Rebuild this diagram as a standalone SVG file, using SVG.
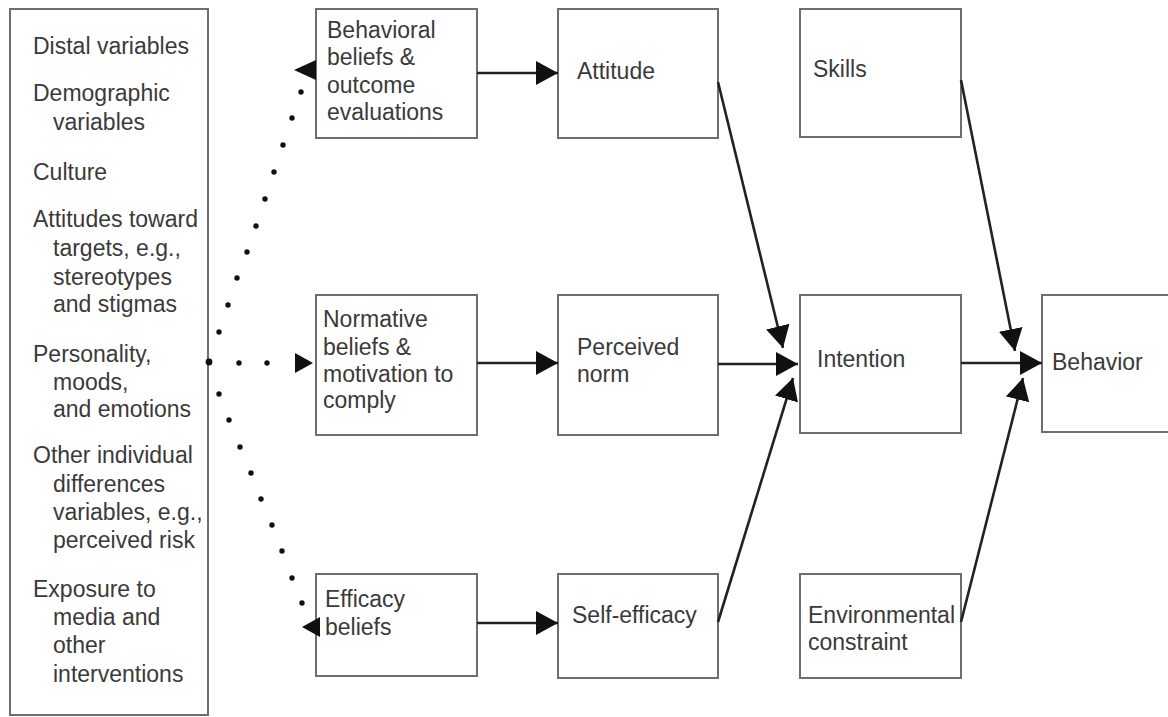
<svg xmlns="http://www.w3.org/2000/svg" width="1168" height="717" viewBox="0 0 1168 717">
<style>
.box{fill:#fff;stroke:#6e6e6e;stroke-width:2}
.t{font-family:"Liberation Sans",Arial,sans-serif;font-size:23px;fill:#3a3a3a}
.c{stroke:#222;stroke-width:2.6;fill:none}
.dots circle{fill:#111}
.ah{fill:#111}
</style>
<defs>
<marker id="arr" markerUnits="userSpaceOnUse" markerWidth="22" markerHeight="24" refX="22" refY="12" orient="auto" viewBox="0 0 22 24">
<path d="M0,0 L22,12 L0,24 z" fill="#111"/>
</marker>
</defs>
<rect width="1168" height="717" fill="#fff"/>

<g id="distal">
<rect class="box" x="10" y="9" width="198" height="706"/>
<text class="t" x="33" y="54">Distal variables</text>
<text class="t" x="33" y="101">Demographic</text>
<text class="t" x="53" y="130">variables</text>
<text class="t" x="33" y="180">Culture</text>
<text class="t" x="33" y="227">Attitudes toward</text>
<text class="t" x="53" y="256">targets, e.g.,</text>
<text class="t" x="53" y="285">stereotypes</text>
<text class="t" x="53" y="312">and stigmas</text>
<text class="t" x="33" y="362">Personality,</text>
<text class="t" x="53" y="390">moods,</text>
<text class="t" x="53" y="417">and emotions</text>
<text class="t" x="33" y="463">Other individual</text>
<text class="t" x="53" y="492">differences</text>
<text class="t" x="53" y="520">variables, e.g.,</text>
<text class="t" x="53" y="548">perceived risk</text>
<text class="t" x="33" y="597">Exposure to</text>
<text class="t" x="53" y="625">media and</text>
<text class="t" x="53" y="653">other</text>
<text class="t" x="53" y="682">interventions</text>
</g>

<g id="behavioral-beliefs">
<rect class="box" x="316" y="9" width="161" height="129"/>
<text class="t" x="327" y="38">Behavioral</text>
<text class="t" x="327" y="65">beliefs &amp;</text>
<text class="t" x="327" y="93">outcome</text>
<text class="t" x="327" y="120">evaluations</text>
</g>

<g id="normative-beliefs">
<rect class="box" x="316" y="295" width="161" height="140"/>
<text class="t" x="323" y="327">Normative</text>
<text class="t" x="323" y="355">beliefs &amp;</text>
<text class="t" x="323" y="382">motivation to</text>
<text class="t" x="323" y="408">comply</text>
</g>

<g id="efficacy-beliefs">
<rect class="box" x="316" y="574" width="161" height="102"/>
<text class="t" x="325" y="607">Efficacy</text>
<text class="t" x="325" y="635">beliefs</text>
</g>

<g id="attitude">
<rect class="box" x="558" y="9" width="160" height="129"/>
<text class="t" x="577" y="79">Attitude</text>
</g>

<g id="perceived-norm">
<rect class="box" x="558" y="295" width="160" height="140"/>
<text class="t" x="577" y="355">Perceived</text>
<text class="t" x="577" y="382">norm</text>
</g>

<g id="self-efficacy">
<rect class="box" x="558" y="574" width="160" height="104"/>
<text class="t" x="572" y="623">Self-efficacy</text>
</g>

<g id="skills">
<rect class="box" x="800" y="9" width="161" height="128"/>
<text class="t" x="813" y="77">Skills</text>
</g>

<g id="intention">
<rect class="box" x="800" y="295" width="161" height="138"/>
<text class="t" x="817" y="367">Intention</text>
</g>

<g id="environmental-constraint">
<rect class="box" x="800" y="574" width="161" height="104"/>
<text class="t" x="808" y="623">Environmental</text>
<text class="t" x="808" y="650">constraint</text>
</g>

<g id="behavior">
<rect class="box" x="1042" y="295" width="140" height="137"/>
<text class="t" x="1052" y="370">Behavior</text>
</g>

<g id="connectors">
<line class="c" x1="477" y1="73" x2="558" y2="73" marker-end="url(#arr)"/>
<line class="c" x1="477" y1="363" x2="558" y2="363" marker-end="url(#arr)"/>
<line class="c" x1="477" y1="623" x2="558" y2="623" marker-end="url(#arr)"/>
<line class="c" x1="718" y1="82" x2="783" y2="348" marker-end="url(#arr)"/>
<line class="c" x1="718" y1="364" x2="798" y2="364" marker-end="url(#arr)"/>
<line class="c" x1="718" y1="622" x2="793" y2="378" marker-end="url(#arr)"/>
<line class="c" x1="961" y1="363" x2="1042" y2="363" marker-end="url(#arr)"/>
<line class="c" x1="961" y1="80" x2="1015" y2="351" marker-end="url(#arr)"/>
<line class="c" x1="961" y1="622" x2="1023" y2="378" marker-end="url(#arr)"/>
<g class="dots">
<circle cx="301" cy="92" r="2.7"/>
<circle cx="292" cy="118" r="2.7"/>
<circle cx="283" cy="145" r="2.7"/>
<circle cx="274" cy="172" r="2.7"/>
<circle cx="265" cy="199" r="2.7"/>
<circle cx="256" cy="226" r="2.7"/>
<circle cx="247" cy="252" r="2.7"/>
<circle cx="237" cy="278" r="2.7"/>
<circle cx="228" cy="305" r="2.7"/>
<circle cx="219" cy="332" r="2.7"/>
<circle cx="209" cy="362" r="3.4"/>
<circle cx="239" cy="363" r="2.7"/>
<circle cx="267" cy="363" r="2.7"/>
<circle cx="219" cy="394" r="2.7"/>
<circle cx="229" cy="420" r="2.7"/>
<circle cx="240" cy="447" r="2.7"/>
<circle cx="251" cy="473" r="2.7"/>
<circle cx="261" cy="499" r="2.7"/>
<circle cx="272" cy="525" r="2.7"/>
<circle cx="282" cy="551" r="2.7"/>
<circle cx="292" cy="578" r="2.7"/>
<circle cx="302" cy="603" r="2.7"/>
</g>
<polygon class="ah" points="313,363 295,353 295,373"/>
<polygon class="ah" points="294,70 316,60 316,80"/>
<polygon class="ah" points="302,627 320,617 320,637"/>
</g>
</svg>
